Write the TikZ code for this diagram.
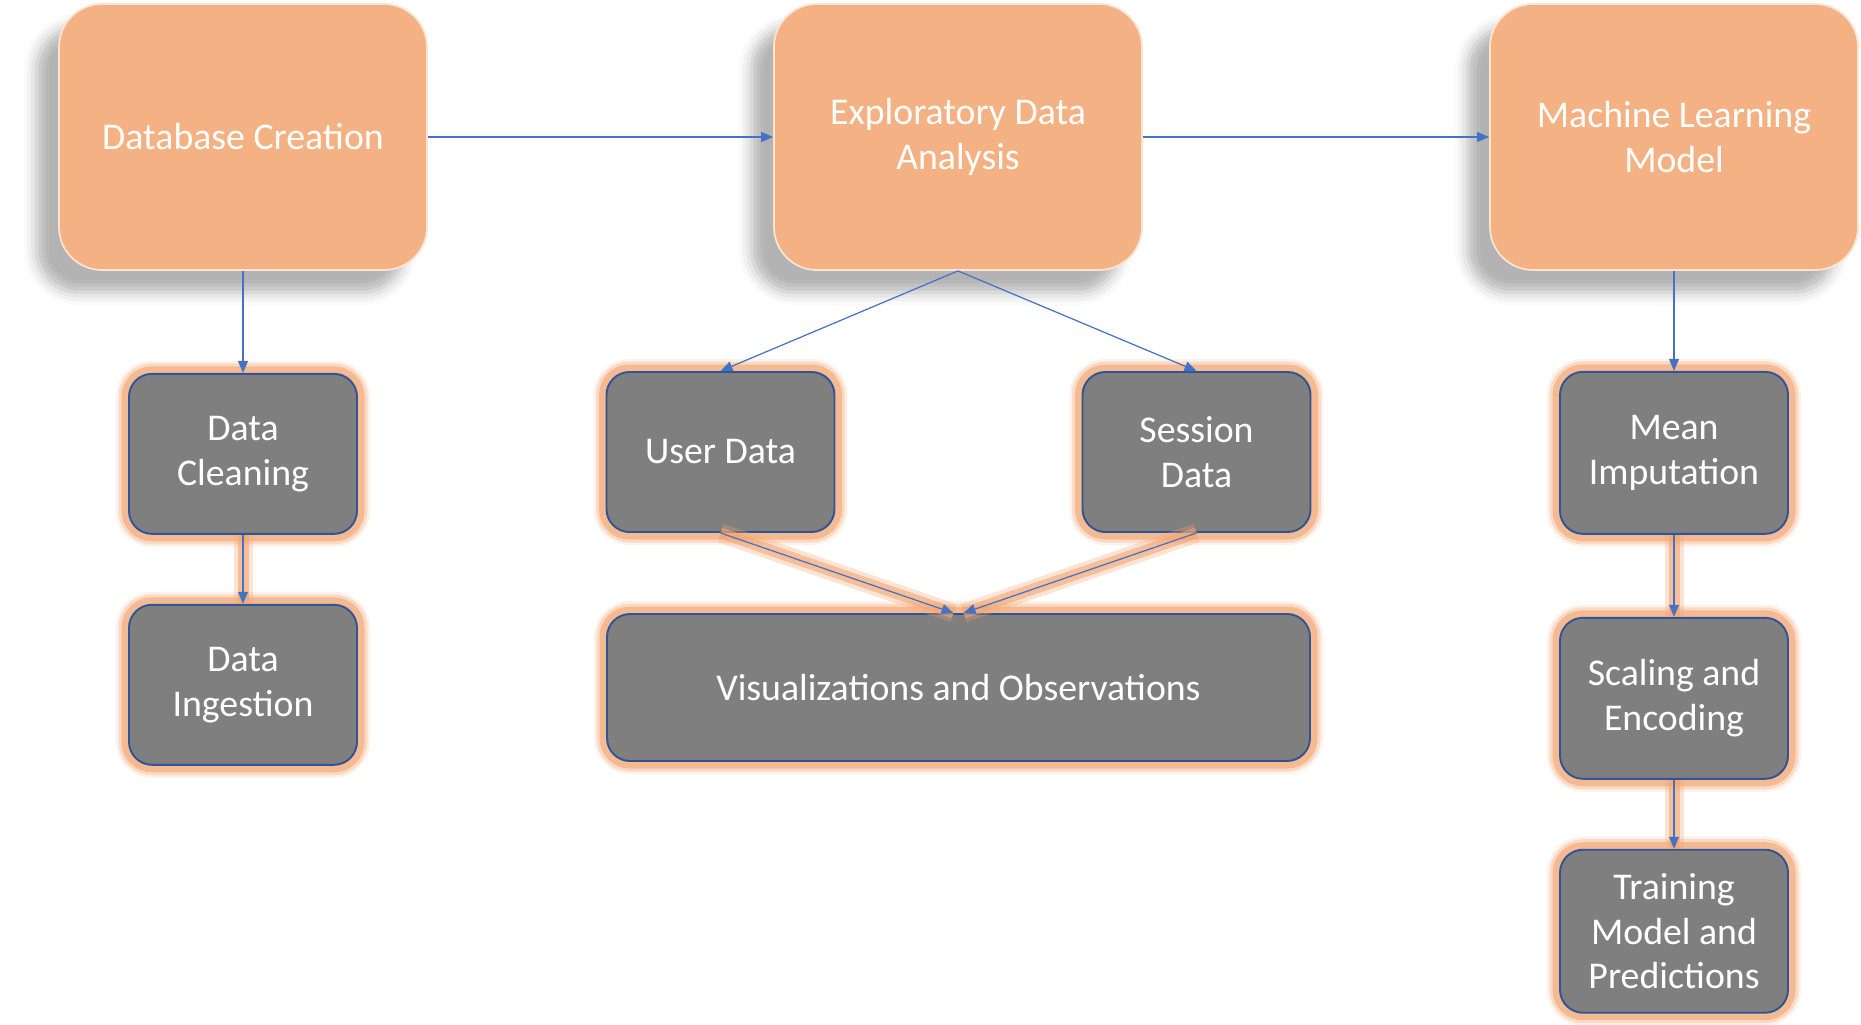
\documentclass[tikz,border=0pt]{standalone}
\usepackage{fontspec}
\setmainfont{Carlito}
\usetikzlibrary{shapes}
\usetikzlibrary{arrows.meta}
\usetikzlibrary{positioning}
\usetikzlibrary{shadows.blur}
\definecolor{peach}{HTML}{F4B183}
\definecolor{cream}{HTML}{FCE4D3}
\definecolor{slate}{HTML}{7F7F7F}
\definecolor{navy}{HTML}{2F5597}
\definecolor{linkblue}{HTML}{4472C4}
\definecolor{glow}{HTML}{F2A571}

\begin{document}
\begin{tikzpicture}
\tikzstyle{stage}=[rectangle,rounded corners=0.86cm,fill=peach,draw=cream,line width=1pt,
minimum width=7.36cm,minimum height=5.32cm,text=white,align=center,
font=\fontsize{21.5}{25.5}\selectfont,
blur shadow={shadow xshift=-0.45cm,shadow yshift=-0.45cm,shadow blur radius=0.25cm,shadow opacity=30}]
\tikzstyle{task}=[rectangle,rounded corners=0.46cm,fill=slate,draw=navy,line width=1.1pt,
minimum width=4.56cm,minimum height=3.2cm,text=white,align=center,
font=\fontsize{21.5}{25.5}\selectfont,
preaction={draw=glow,line width=0.52cm,opacity=0.15},
preaction={draw=glow,line width=0.42cm,opacity=0.3},
preaction={draw=glow,line width=0.3cm,opacity=0.6}]
\tikzstyle{link}=[draw=linkblue,line width=0.7pt,-{Triangle[length=0.24cm,width=0.2cm]}]
\tikzstyle{glowlink}=[link,preaction={draw=glow,-,line width=0.38cm,opacity=0.3},
preaction={draw=glow,-,line width=0.22cm,opacity=0.6}]

\useasboundingbox (0,0) rectangle (37.22,-20.48);

\node[stage] (db creation) at (4.86,-2.74) {Database Creation};
\node[stage] (eda) at (19.16,-2.74) {Exploratory Data\\Analysis};
\node[stage] (ml model) at (33.48,-2.74) {Machine Learning\\Model};

\node[task] (cleaning) [below=2.04cm of db creation] {Data\\Cleaning};
\node[task] (ingestion) [below=1.38cm of cleaning] {Data\\Ingestion};
\node[task] (user data) at (14.41,-9.04) {User Data};
\node[task] (session data) at (23.93,-9.04) {Session\\Data};
\node[task,minimum width=14.06cm,minimum height=2.94cm] (visuals) at (19.17,-13.75)
{Visualizations and Observations};
\node[task,minimum height=3.24cm] (imputation) [below=2.0cm of ml model] {Mean\\Imputation};
\node[task,minimum height=3.22cm] (scaling) [below=1.64cm of imputation] {Scaling and\\Encoding};
\node[task,minimum height=3.26cm] (training) [below=1.38cm of scaling] {Training\\Model and\\Predictions};

\draw[link] (db creation) -- (eda);
\draw[link] (eda) -- (ml model);
\draw[link] (db creation) -- (cleaning);
\draw[link] (eda.south) -- (user data.north);
\draw[link] (eda.south) -- (session data.north);
\draw[link] (ml model) -- (imputation);
\draw[glowlink] (cleaning) -- (ingestion);
\draw[glowlink] (imputation) -- (scaling);
\draw[glowlink] (scaling) -- (training);
\draw[glowlink] (user data.south) -- ([xshift=-0.1cm]visuals.north);
\draw[glowlink] (session data.south) -- ([xshift=0.1cm]visuals.north);
\end{tikzpicture}
\end{document}
